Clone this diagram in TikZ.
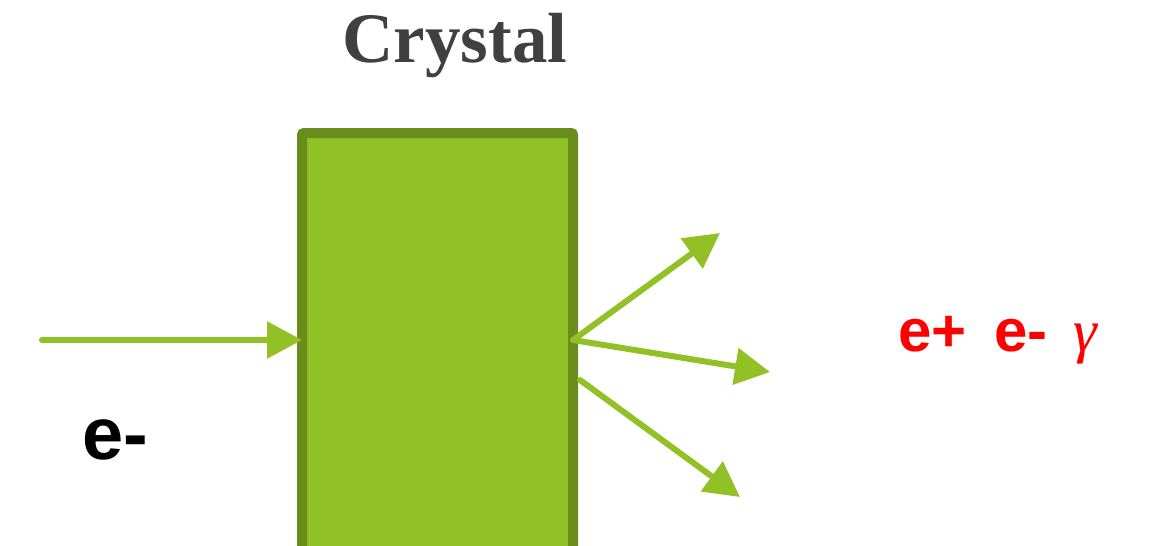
\documentclass[tikz,border=0pt]{standalone}
\usepackage{fontspec}
\newfontfamily\labelfont{Liberation Sans}
\newfontfamily\titlefont{Liberation Serif}
\usetikzlibrary{arrows.meta}
\definecolor{leaf}{HTML}{92C126}
\definecolor{leafdark}{HTML}{6A8C1C}
\definecolor{titlegray}{HTML}{404040}
\newcommand{\bgamma}{{\titlefont\mdseries\itshape γ}}
\begin{document}
\begin{tikzpicture}[
  x=1pt, y=-1pt,
  crystal/.style={draw=leafdark, fill=leaf, line width=10pt, rounded corners=2pt, outer sep=0pt,
                  minimum width=271pt, minimum height=440pt, inner sep=0pt, anchor=north west},
  beam/.style={draw=leaf, line width=6pt, line cap=round,
               -{Triangle[length=35pt, width=36pt]}},
  particle/.style={font=\labelfont\bfseries\fontsize{74}{80}\selectfont, inner sep=0pt},
  products/.style={font=\labelfont\bfseries\fontsize{60}{70}\selectfont, text=red, inner sep=0pt, anchor=west}
]
\clip (0,0) rectangle (1154,546);
\node[crystal] (crys) at (302,133) {};
\node[font=\titlefont\bfseries\fontsize{71}{80}\selectfont, text=titlegray] (title) at (455,46) {Crystal};
% incoming electron
\coordinate (src) at (42,340);
\draw[beam] (src) -- (src -| crys.west);
\node[particle] (inlabel) at (115,440) {e-};
% outgoing shower
\coordinate (up)  at (720,233);
\coordinate (mid) at (770,372);
\coordinate (low) at (740,497);
\coordinate (lowstart) at (580,380);
\draw[beam] (src -| crys.east) -- (up);
\draw[beam] (src -| crys.east) -- (mid);
\draw[beam] (lowstart) -- (low);
\node[products] (outlabel) at (898,340) {e+\hspace{28pt}e-\hspace{26pt}\bgamma};
\end{tikzpicture}
\end{document}
